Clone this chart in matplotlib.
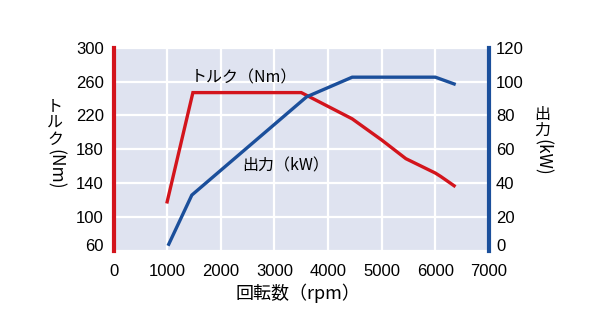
import matplotlib
matplotlib.use("Agg")
import matplotlib.pyplot as plt

plt.rcParams['font.family'] = ['Liberation Sans', 'Noto Sans CJK JP', 'DejaVu Sans']
JP = ['Noto Sans CJK JP', 'DejaVu Sans']

# Data
torque_rpm = [1000, 1480, 3500, 4450, 5000, 5450, 6000, 6100, 6350]
torque_nm = [118, 247, 247, 216, 191, 169, 152, 148, 137]
power_rpm = [1030, 1460, 3600, 4450, 6000, 6350]
power_kw = [4, 33, 91, 102.6, 102.6, 98.6]

x_ticks = [0, 1000, 2000, 3000, 4000, 5000, 6000, 7000]
torque_ticks = [60, 100, 140, 180, 220, 260, 300]
power_ticks = [0, 20, 40, 60, 80, 100, 120]

RED = '#d3141c'
BLUE = '#1b4f9b'
BG = '#dfe3f0'

fig = plt.figure(figsize=(6, 3.3), dpi=100)
ax = fig.add_axes([113.5/600, 1-251/330, (489-113.5)/600, (251-47.7)/330])
ax.set_facecolor(BG)
ax2 = ax.twinx()

ax.set_xlim(0, 7000)
ax.set_ylim(60, 300)
ax2.set_ylim(0, 120)

ax.set_xticks(x_ticks)
ax.set_yticks(torque_ticks)
ax2.set_yticks(power_ticks)

ax.grid(True, color='white', linewidth=1.6)
ax.set_axisbelow(True)

for a in (ax, ax2):
    for s in a.spines.values():
        s.set_visible(False)
    a.tick_params(length=0, labelsize=12)

ax.spines['left'].set_visible(True)
ax.spines['left'].set_color(RED)
ax.spines['left'].set_linewidth(3)
ax2.spines['right'].set_visible(True)
ax2.spines['right'].set_color(BLUE)
ax2.spines['right'].set_linewidth(3)

ax.tick_params(axis='y', pad=7)
ax.tick_params(axis='x', pad=9)
ax2.tick_params(axis='y', pad=5)

for lab in ax.get_yticklabels():
    if lab.get_text() == '60':
        lab.set_verticalalignment('baseline')
for lab in ax2.get_yticklabels():
    if lab.get_text() == '0':
        lab.set_verticalalignment('baseline')

ax.plot(torque_rpm, torque_nm, color=RED, linewidth=2.4, solid_joinstyle='miter', zorder=3)
ax2.plot(power_rpm, power_kw, color=BLUE, linewidth=2.4, solid_joinstyle='miter', zorder=3)

ax.text(2440, 264, 'トルク（Nm）', family=JP, fontsize=11.5, ha='center', va='center')
ax.text(3200, 160, '出力（kW）', family=JP, fontsize=11.5, ha='center', va='center')

# x axis label
fig.text(298/600, 1-293/330, '回転数（rpm）', family=JP, fontsize=13, ha='center', va='center')

# vertical (Japanese-style) y labels
def vlabel(xc, y_top, chars, latin, fs=11.5, step=16.2):
    y = y_top
    for ch in chars:
        fig.text(xc/600, 1-(y+step/2)/330, ch, family=JP, fontsize=fs, ha='center', va='center')
        y += step
    fig.text(xc/600, 1-(y+1)/330, latin, family=JP, fontsize=12.5, ha='center', va='top',
             rotation=270)

vlabel(55, 99, ['ト', 'ル', 'ク'], '(Nm)')
vlabel(542, 106, ['出', '力'], '(kW)')

fig.savefig('out.png', dpi=100, facecolor='white')
